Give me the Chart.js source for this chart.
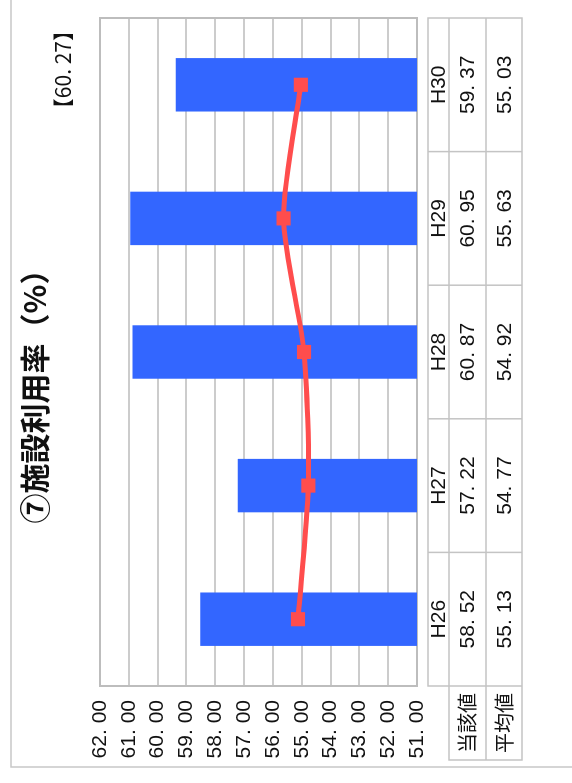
<!DOCTYPE html>
<html>
<head>
<meta charset="utf-8">
<script src="https://cdn.jsdelivr.net/npm/chart.js@4"></script>
<style>
  html, body { margin: 0; padding: 0; background: #fff; overflow: hidden; }
  #wrap {
    position: absolute; left: 0; top: 0;
    width: 783px; height: 572px;
    transform-origin: 0 0;
    transform: translate(0, 783px) rotate(-90deg);
  }
</style>
</head>
<body>
<div id="wrap"><canvas id="chart" width="783" height="572"></canvas></div>
<script>
const categories = ['H26', 'H27', 'H28', 'H29', 'H30'];
const currentValues = [58.52, 57.22, 60.87, 60.95, 59.37];
const averageValues = [55.13, 54.77, 54.92, 55.63, 55.03];
const rowLabels = ['当該値', '平均値'];
const titleText = '⑦施設利用率（%）';
const referenceValue = 60.27;
const yMin = 51;
const yMax = 62;
const yStep = 1;

const fmt = v => v.toFixed(2).replace('.', '. ');
const narrowFamily = '"Liberation Sans Narrow", "Liberation Sans", Arial, sans-serif';
const numFont = '21px ' + narrowFamily;
const cjkFont = '20px "Noto Sans CJK JP", sans-serif';
const lineGray = '#c4c4c4';

const decorations = {
    id: 'decorations',
    beforeDatasetsDraw(chart) {
        const { ctx, chartArea: a } = chart;
        ctx.save();
        ctx.strokeStyle = '#bdbdbd';
        ctx.lineWidth = 2;
        ctx.strokeRect(a.left, a.top, a.right - a.left, a.bottom - a.top);
        ctx.restore();
    },
    afterDraw(chart) {
        const { ctx, chartArea: a } = chart;
        const x = chart.scales.x;
        ctx.save();

        // outer frame
        ctx.strokeStyle = '#c8c8c8';
        ctx.lineWidth = 1.5;
        ctx.beginPath();
        ctx.moveTo(16, 572);
        ctx.lineTo(16, 11);
        ctx.lineTo(783, 11);
        ctx.stroke();

        // title
        ctx.fillStyle = '#111';
        ctx.textAlign = 'center';
        ctx.textBaseline = 'middle';
        ctx.font = 'bold 30px "Noto Sans CJK JP", sans-serif';
        ctx.fillText(titleText, 394, 35);

        // reference value
        ctx.textAlign = 'right';
        ctx.font = '21px "Noto Sans CJK JP", sans-serif';
        ctx.fillText('【' + fmt(referenceValue) + '】', 763, 63);

        // data table
        const step = (a.right - a.left) / categories.length;
        const r0 = a.bottom + 11, r1 = a.bottom + 32, r2 = a.bottom + 69, r3 = a.bottom + 105;
        const labL = 23;
        ctx.strokeStyle = lineGray;
        ctx.lineWidth = 1.5;
        ctx.beginPath();
        ctx.rect(a.left, r0, a.right - a.left, r3 - r0);
        ctx.rect(labL, r1, a.left - labL, r3 - r1);
        [r1, r2].forEach(r => { ctx.moveTo(labL, r); ctx.lineTo(a.right, r); });
        for (let i = 1; i < categories.length; i++) {
            const px = a.left + step * i;
            ctx.moveTo(px, r0); ctx.lineTo(px, r3);
        }
        ctx.stroke();

        ctx.fillStyle = '#111';
        ctx.textAlign = 'center';
        ctx.textBaseline = 'middle';
        categories.forEach((c, i) => {
            const cx = x.getPixelForValue(i);
            ctx.font = numFont;
            ctx.fillText(c, cx, (r0 + r1) / 2 + 1);
            ctx.fillText(fmt(currentValues[i]), cx, (r1 + r2) / 2 + 1);
            ctx.fillText(fmt(averageValues[i]), cx, (r2 + r3) / 2 + 1);
        });
        ctx.font = cjkFont;
        ctx.fillText(rowLabels[0], (labL + a.left) / 2, (r1 + r2) / 2);
        ctx.fillText(rowLabels[1], (labL + a.left) / 2, (r2 + r3) / 2);
        ctx.restore();
    }
};

new Chart(document.getElementById('chart').getContext('2d'), {
    data: {
        labels: categories,
        datasets: [
            {
                type: 'line',
                label: rowLabels[1],
                data: averageValues,
                borderColor: '#ff4d4d',
                backgroundColor: '#ff4d4d',
                borderWidth: 5,
                tension: 0.25,
                pointStyle: 'rect',
                pointRadius: 10,
                pointBackgroundColor: '#ff4d4d',
                pointBorderWidth: 0,
                order: 0
            },
            {
                type: 'bar',
                label: rowLabels[0],
                data: currentValues,
                backgroundColor: '#3366ff',
                borderWidth: 0,
                barPercentage: 0.4,
                categoryPercentage: 1,
                order: 1
            }
        ]
    },
    options: {
        responsive: false,
        devicePixelRatio: 1,
        animation: false,
        layout: { padding: { left: 16, right: 18, top: 100, bottom: 155 } },
        plugins: {
            legend: { display: false },
            tooltip: { enabled: false },
            title: { display: false }
        },
        scales: {
            x: { type: 'category', display: false, offset: true },
            y: {
                min: yMin,
                max: yMax,
                afterFit: scale => { scale.width = 81; },
                border: { display: false },
                grid: { color: '#cccccc', lineWidth: 2, drawTicks: false },
                ticks: {
                    stepSize: yStep,
                    padding: 14,
                    color: '#111',
                    font: { size: 21, family: narrowFamily },
                    callback: v => fmt(v)
                }
            }
        }
    },
    plugins: [decorations]
});
</script>
</body>
</html>
